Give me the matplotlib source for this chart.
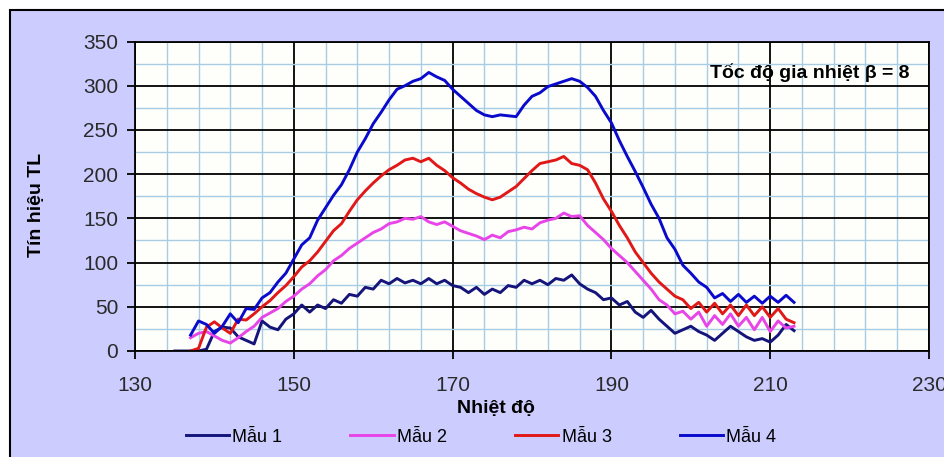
import numpy as np
import matplotlib
matplotlib.use("Agg")
import matplotlib.pyplot as plt
from matplotlib.patches import Rectangle

plt.rcParams['font.family'] = ['Liberation Sans', 'DejaVu Sans']

# Nhiệt độ (mỗi 1 độ) và tín hiệu TL của 4 mẫu
nhiet_do = np.arange(135, 214)

mau_1 = [0, 0, 0, 0, 2,
         22, 27, 26, 16, 12, 8, 34, 27, 24, 36,
         42, 52, 44, 52, 48, 58, 54, 64, 62, 72,
         70, 80, 76, 82, 77, 80, 76, 82, 76, 80,
         74, 72, 66, 72, 64, 70, 66, 74, 72, 80,
         76, 80, 75, 82, 80, 86, 76, 70, 66, 58,
         60, 52, 56, 44, 38, 46, 36, 28, 20, 24,
         28, 22, 18, 12, 20, 28, 22, 16, 12, 14,
         10, 18, 30, 23]

mau_2 = [np.nan, np.nan, 15, 20, 22,
         17, 12, 9, 15, 22, 28, 38, 43, 48, 56,
         62, 70, 76, 85, 92, 102, 108, 116, 122, 128,
         134, 138, 144, 146, 150, 149, 152, 146, 143, 146,
         141, 136, 133, 130, 126, 131, 128, 135, 137, 140,
         138, 145, 148, 150, 156, 152, 153, 142, 134, 126,
         116, 108, 100, 90, 80, 70, 58, 52, 42, 45,
         36, 44, 28, 40, 30, 42, 28, 38, 24, 38,
         22, 34, 26, 28]

mau_3 = [np.nan, np.nan, 0, 3, 27,
         33, 26, 20, 36, 35, 42, 50, 57, 66, 74,
         84, 95, 102, 112, 124, 136, 144, 158, 171, 181,
         190, 198, 205, 210, 216, 218, 214, 218, 210, 204,
         196, 190, 183, 178, 174, 171, 174, 180, 186, 195,
         204, 212, 214, 216, 220, 212, 210, 205, 190, 172,
         158, 142, 128, 112, 100, 88, 78, 70, 62, 58,
         48, 55, 44, 54, 42, 52, 40, 52, 40, 50,
         38, 48, 36, 32]

mau_4 = [np.nan, np.nan, 18, 34, 30,
         20, 28, 42, 32, 48, 47, 60, 66, 78, 88,
         104, 120, 128, 148, 162, 176, 188, 205, 225, 240,
         257, 270, 284, 296, 300, 305, 308, 315, 310, 306,
         296, 288, 280, 272, 267, 265, 267, 266, 265, 278,
         288, 292, 299, 302, 305, 308, 305, 298, 288, 272,
         258, 238, 220, 203, 185, 166, 150, 128, 115, 97,
         88, 78, 72, 60, 65, 56, 64, 55, 62, 54,
         62, 55, 63, 55]

ten_mau = ["Mẫu 1", "Mẫu 2", "Mẫu 3", "Mẫu 4"]
mau_sac = ["#14147A", "#E845E8", "#E01818", "#0A0ACC"]

fig = plt.figure(figsize=(9.45, 4.57), dpi=100)
fig.patch.set_facecolor("white")
# khung nền tím nhạt của biểu đồ
fig.patches.append(Rectangle((10 / 945, -0.1), 1.2, (447 / 457) + 0.1,
                             transform=fig.transFigure, facecolor="#CCCCFF",
                             edgecolor="black", lw=1.5, zorder=-1))

ax = fig.add_axes([135 / 945, 106 / 457, 794 / 945, 309.5 / 457])
ax.set_facecolor("#FEFEFB")

for y, ten, mau in zip([mau_1, mau_2, mau_3, mau_4], ten_mau, mau_sac):
    ax.plot(nhiet_do, y, color=mau, lw=2.1, label=ten)

ax.set_xlim(130, 230)
ax.set_ylim(0, 350)
ax.set_xticks(np.arange(130, 231, 20))
ax.set_xticks(np.arange(130, 231, 4), minor=True)
ax.set_yticks(np.arange(0, 351, 50))
ax.set_yticks(np.arange(0, 351, 25), minor=True)
ax.grid(which="minor", color="#A8CCE4", lw=1.0)
ax.grid(which="major", color="black", lw=1.3)
ax.set_axisbelow(True)
for s in ax.spines.values():
    s.set_color("black")
    s.set_linewidth(1.3)
ax.tick_params(which="minor", length=0)
ax.tick_params(axis="y", which="major", length=6, width=1.3, pad=6,
               labelsize=15, colors="black", labelcolor="#2A2A2A")
ax.tick_params(axis="x", which="major", length=6, width=1.3, pad=12,
               labelsize=15, colors="black", labelcolor="#2A2A2A")

ax.text(0.976, 0.90, "Tốc độ gia nhiệt β = 8", transform=ax.transAxes,
        ha="right", va="center", fontsize=14, fontweight="bold")

fig.text(37 / 945, 1 - 205 / 457, "Tín hiệu TL", rotation=90, ha="center",
         va="center", fontsize=14, fontweight="bold")
fig.text(496 / 945, 1 - 408 / 457, "Nhiệt độ", ha="center", va="center",
         fontsize=14, fontweight="bold")

fig.legend(loc="center", bbox_to_anchor=(481 / 945, 1 - 437 / 457), ncol=4,
           frameon=False, fontsize=13, handlelength=2.4, handletextpad=0.2,
           columnspacing=3.75, borderaxespad=0)

fig.savefig("out.png", dpi=100, facecolor=fig.get_facecolor())
